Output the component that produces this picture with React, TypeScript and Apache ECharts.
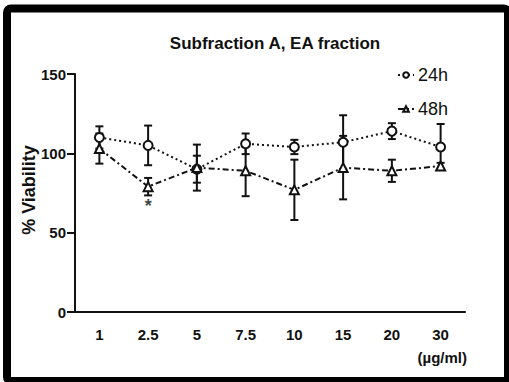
import React, { useEffect, useRef } from "react";
import * as echarts from "echarts";

const categories = ["1", "2.5", "5", "7.5", "10", "15", "20", "30"];
const mean24 = [110, 105, 90, 106, 104, 107, 114, 104];
const sd24 = [7, 12.5, 8.5, 6.5, 4.5, 17, 5, 14.5];
const mean48 = [103, 79, 91, 89, 77, 91, 89, 92];
const sd48 = [9.5, 5.5, 14.5, 16, 19, 20, 7, 2];
const sigMarks = [{ cat: "2.5", value: 67, text: "*" }];
const yTicks = { min: 0, max: 150, interval: 50 };

const FONT = "'Liberation Sans', Arial, sans-serif";

export default function App() {
  const ref = useRef<HTMLDivElement>(null);
  useEffect(() => {
    if (!ref.current) return;
    const chart = echarts.init(ref.current, undefined, { renderer: "svg" });

    const errData = (means: number[], sds: number[]) =>
      means.map((m, i) => [i, m - sds[i], m + sds[i]]);

    const errRender = (params: any, api: any) => {
      const x = api.value(0);
      const lo = api.coord([x, api.value(1)]);
      const hi = api.coord([x, api.value(2)]);
      const hw = 4;
      const style = { stroke: "#111", lineWidth: 2 };
      return {
        type: "group",
        children: [
          { type: "line", shape: { x1: lo[0], y1: lo[1], x2: hi[0], y2: hi[1] }, style },
          { type: "line", shape: { x1: hi[0] - hw, y1: hi[1], x2: hi[0] + hw, y2: hi[1] }, style },
          { type: "line", shape: { x1: lo[0] - hw, y1: lo[1], x2: lo[0] + hw, y2: lo[1] }, style },
        ],
      };
    };

    chart.setOption({
      animation: false,
      backgroundColor: "#fff",
      title: {
        text: "Subfraction A, EA fraction",
        left: 270,
        textAlign: "center",
        top: 30,
        textStyle: { fontFamily: FONT, fontWeight: "bold", fontSize: 17, color: "#111" },
      },
      legend: {
        orient: "vertical",
        left: 392,
        top: 61,
        itemGap: 16,
        itemWidth: 16,
        itemHeight: 7,
        data: ["24h", "48h"],
        textStyle: { fontFamily: FONT, fontSize: 18, color: "#111", padding: [0, 0, 0, -1] },
      },
      grid: { left: 75, right: 44, top: 74, bottom: 70, containLabel: false },
      xAxis: {
        type: "category",
        data: categories,
        boundaryGap: true,
        axisLine: { lineStyle: { color: "#111", width: 2 } },
        axisTick: { alignWithLabel: true, length: 7, lineStyle: { color: "#111", width: 2 } },
        axisLabel: { fontFamily: FONT, fontWeight: "bold", fontSize: 15, color: "#111", margin: 15 },
      },
      yAxis: {
        type: "value",
        min: yTicks.min,
        max: yTicks.max,
        interval: yTicks.interval,
        splitLine: { show: false },
        axisLine: { show: true, lineStyle: { color: "#111", width: 2 } },
        axisTick: { show: true, length: 8, lineStyle: { color: "#111", width: 2 } },
        axisLabel: { fontFamily: FONT, fontWeight: "bold", fontSize: 15, color: "#111", margin: 9 },
      },
      graphic: [
        {
          type: "rect",
          shape: { x: 7, y: 8.5, width: 501, height: 372.5, r: 4 },
          style: { fill: "none", stroke: "#000", lineWidth: 8 },
          silent: true,
        },
        {
          type: "text",
          x: 29,
          y: 190,
          rotation: Math.PI / 2,
          style: {
            text: "% Viability",
            align: "center",
            verticalAlign: "middle",
            fontFamily: FONT,
            fontWeight: "bold",
            fontSize: 18,
            fill: "#111",
          },
        },
        {
          type: "text",
          x: 467,
          y: 357,
          style: {
            text: "(\u00b5g/ml)",
            align: "right",
            verticalAlign: "middle",
            fontFamily: FONT,
            fontWeight: "bold",
            fontSize: 15,
            fill: "#111",
          },
        },
      ],
      series: [
        {
          name: "err24",
          type: "custom",
          renderItem: errRender,
          data: errData(mean24, sd24),
          z: 1,
          silent: true,
        },
        {
          name: "err48",
          type: "custom",
          renderItem: errRender,
          data: errData(mean48, sd48),
          z: 1,
          silent: true,
        },
        {
          name: "24h",
          type: "line",
          data: mean24,
          symbol: "emptyCircle",
          symbolSize: 9,
          z: 3,
          itemStyle: { color: "#111", borderWidth: 2 },
          lineStyle: { color: "#111", width: 2, type: [2, 3] },
        },
        {
          name: "48h",
          type: "line",
          data: mean48,
          symbol: "emptyTriangle",
          symbolSize: 9,
          z: 3,
          itemStyle: { color: "#111", borderWidth: 2 },
          lineStyle: { color: "#111", width: 2, type: [6, 3, 2, 3] },
        },
        {
          name: "sig",
          type: "scatter",
          data: sigMarks.map((s) => [s.cat, s.value]),
          symbolSize: 0,
          label: {
            show: true,
            position: "inside",
            formatter: (p: any) => sigMarks[p.dataIndex].text,
            fontFamily: FONT,
            fontWeight: "bold",
            fontSize: 18,
            color: "#111",
          },
          silent: true,
        },
      ],
    });
    return () => chart.dispose();
  }, []);

  return (
    <div
      ref={ref}
      style={{ position: "fixed", left: 0, top: 0, width: 509, height: 382 }}
    />
  );
}
